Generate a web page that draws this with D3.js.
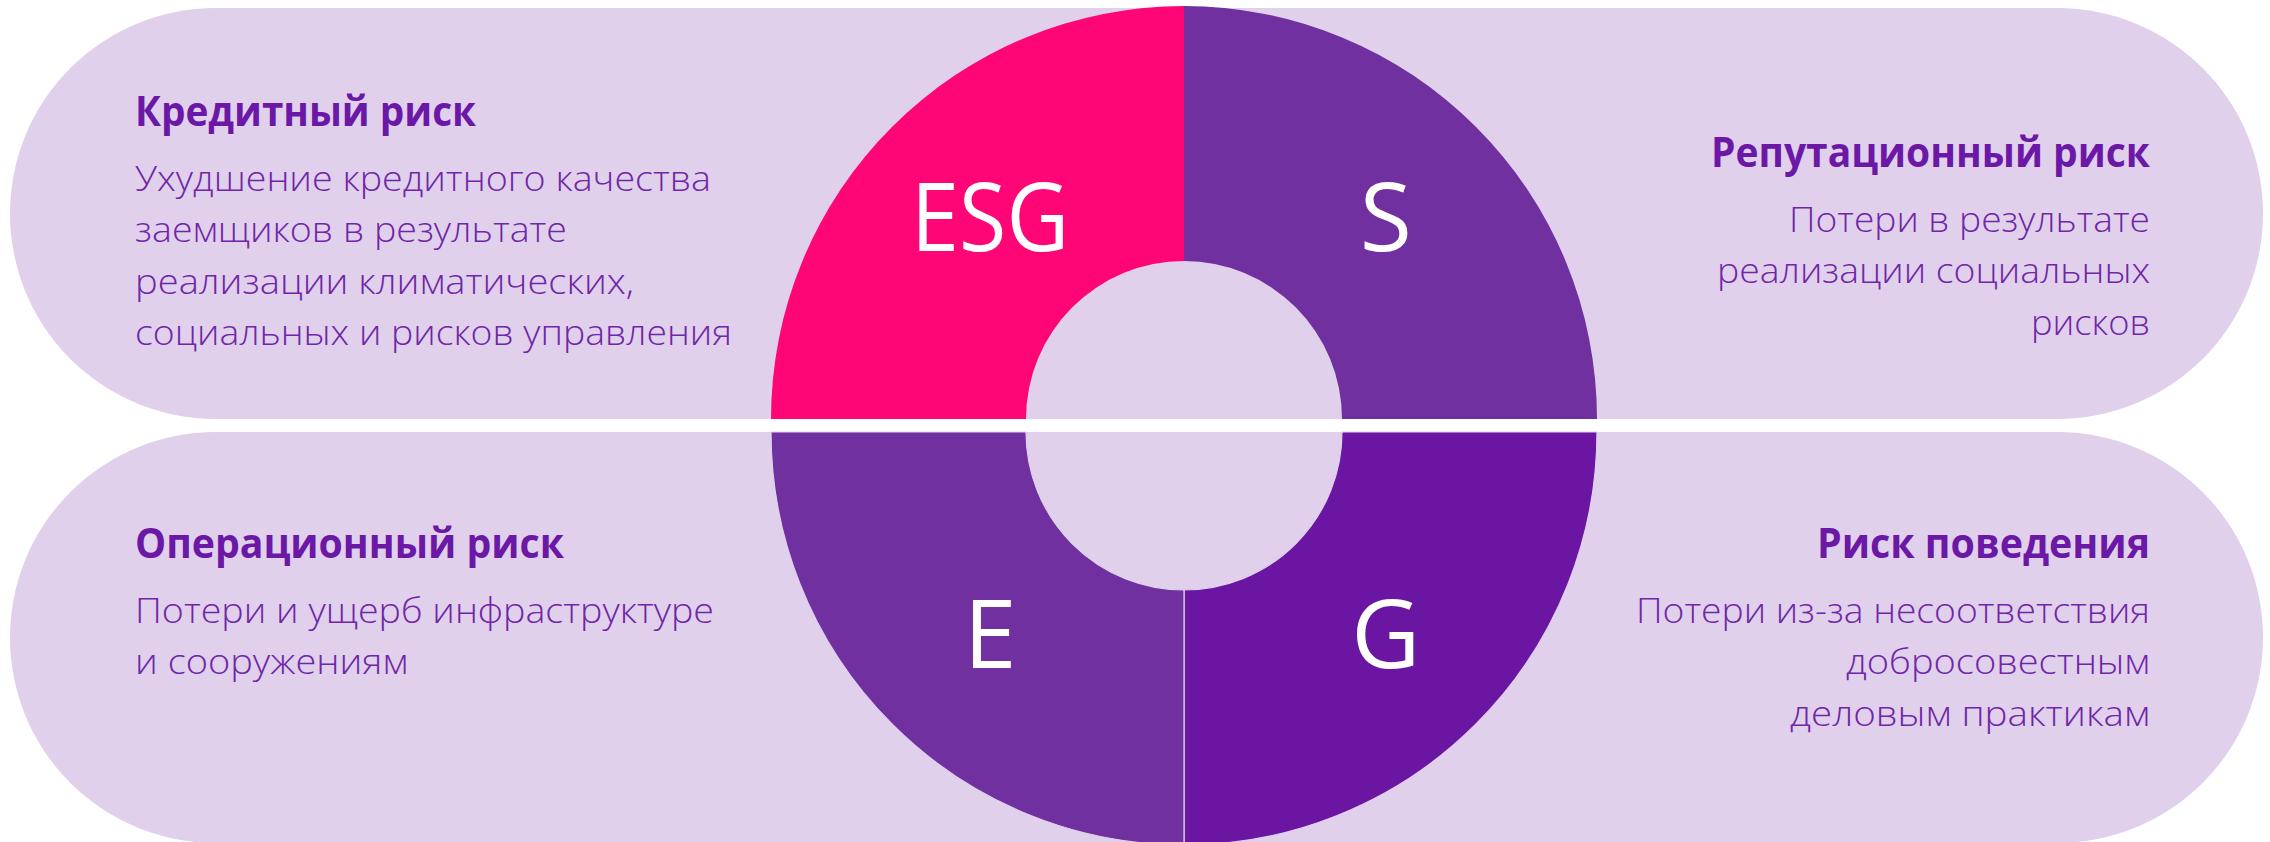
<!DOCTYPE html>
<html><head><meta charset="utf-8">
<script src="https://cdn.jsdelivr.net/npm/d3@7"></script>
<style>html,body{margin:0;padding:0;background:#fff;} svg{display:block}</style>
</head><body>
<svg id="chart" width="2270" height="842"></svg>
<script>
// ---- data ----
const segments = ["ESG", "S", "G", "E"];
const segmentValues = [1, 1, 1, 1];
const riskTitles = ["Кредитный риск", "Репутационный риск", "Риск поведения", "Операционный риск"];
const riskLines = [
  ["Ухудшение кредитного качества", "заемщиков в результате", "реализации климатических,", "социальных и рисков управления"],
  ["Потери в результате", "реализации социальных", "рисков"],
  ["Потери из-за несоответствия", "добросовестным", "деловым практикам"],
  ["Потери и ущерб инфраструктуре", "и сооружениям"]
];

// ---- layout / style ----
const W = 2270, H = 842;
const cx = 1184, R = 413, r = 158;
const topCY = 419, botCY = 432;
const bandX0 = 10, bandX1 = 2263;
const bands = [{y: 8, h: 411}, {y: 432, h: 411}];
const bandColor = "#E0D0EB";
const segColor = {ESG: "#FF0676", S: "#7030A0", G: "#6A16A3", E: "#7030A0"};
const titleColor = "#6B18A7", bodyColor = "#7026A8";
const lineH = 51.3;
const textLayout = [
  {x: 135,  anchor: "start", titleY: 126, titleW: 341, y0: 191, widths: [576, 432, 499, 597]},
  {x: 2150, anchor: "end",   titleY: 167, titleW: 439, y0: 232, widths: [361, 433, 119]},
  {x: 2150, anchor: "end",   titleY: 558, titleW: 333, y0: 623, widths: [514, 304, 360]},
  {x: 135,  anchor: "start", titleY: 558, titleW: 429, y0: 623, widths: [579, 273]}
];

const svg = d3.select("#chart");
svg.append("rect").attr("width", W).attr("height", H).attr("fill", "#fff");

// bands (pill shapes)
svg.selectAll("rect.band").data(bands).join("rect")
  .attr("class", "band")
  .attr("x", bandX0).attr("y", d => d.y)
  .attr("width", bandX1 - bandX0).attr("height", d => d.h)
  .attr("rx", d => d.h / 2).attr("ry", d => d.h / 2)
  .attr("fill", bandColor);

// donut
const pie = d3.pie().sort(null).startAngle(-Math.PI / 2).endAngle(1.5 * Math.PI);
const arcs = pie(segmentValues);
const arc = d3.arc().innerRadius(r).outerRadius(R);
const isTop = d => Math.cos((d.startAngle + d.endAngle) / 2) > 0;
const isLeft = d => Math.sin((d.startAngle + d.endAngle) / 2) < 0;

const g = svg.selectAll("g.seg").data(arcs).join("g")
  .attr("class", "seg")
  .attr("transform", d => `translate(${cx},${isTop(d) ? topCY : botCY})`);

g.append("path")
  .attr("d", arc)
  .attr("fill", (d, i) => segColor[segments[i]])
  .attr("stroke", d => isTop(d) ? "none" : bandColor)
  .attr("stroke-width", 1.2);

g.append("text")
  .attr("x", d => arc.centroid(d)[0])
  .attr("y", d => arc.centroid(d)[1])
  .attr("dx", d => isLeft(d) ? 8 : 0)
  .attr("dy", "0.36em")
  .attr("text-anchor", "middle")
  .attr("font-family", "'Open Sans', 'Noto Sans', sans-serif")
  .attr("font-size", 95)
  .attr("fill", "#fff")
  .each(function(d, i) { if (segments[i].length > 1) d3.select(this).attr("textLength", 158).attr("lengthAdjust", "spacingAndGlyphs"); })
  .text((d, i) => segments[i]);

// texts
textLayout.forEach((L, i) => {
  svg.append("text")
    .attr("x", L.x).attr("y", L.titleY)
    .attr("text-anchor", L.anchor)
    .attr("font-family", "'Open Sans', 'Noto Sans', sans-serif")
    .attr("font-weight", 700)
    .attr("font-size", 41)
    .attr("fill", titleColor)
    .attr("textLength", L.titleW)
    .attr("lengthAdjust", "spacingAndGlyphs")
    .text(riskTitles[i]);
  riskLines[i].forEach((line, j) => {
    svg.append("text")
      .attr("x", L.x).attr("y", L.y0 + j * lineH)
      .attr("text-anchor", L.anchor)
      .attr("font-family", "'Open Sans', 'Noto Sans', sans-serif")
      .attr("font-weight", 300)
      .attr("font-size", 35)
      .attr("fill", bodyColor)
      .attr("textLength", L.widths[j])
      .attr("lengthAdjust", "spacingAndGlyphs")
      .text(line);
  });
});
</script>
</body></html>
